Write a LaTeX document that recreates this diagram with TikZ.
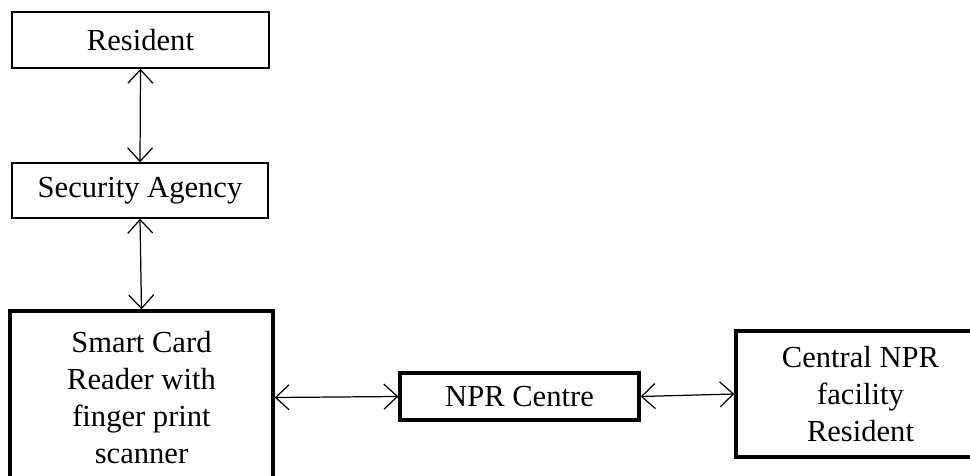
\documentclass[tikz,border=0pt]{standalone}
\usepackage{fontspec}
\setmainfont{Liberation Serif}
\usetikzlibrary{arrows.meta}

\begin{document}
\begin{tikzpicture}[
  x=0.2mm, y=-0.2mm,
  font=\fontsize{17.4}{21}\selectfont,
  thinbox/.style={draw, line width=0.9pt, align=center, inner sep=0pt},
  thickbox/.style={draw, line width=1.9pt, align=center, inner sep=0pt},
  link/.style={{Straight Barb[length=2.7mm,width=5mm]}-{Straight Barb[length=2.7mm,width=5mm]},
    line width=0.7pt}]
\useasboundingbox (0,0) rectangle (970,476);
% left column
\node[thinbox, minimum width=51.4mm, minimum height=11.2mm] (res) at (140.5,40) {Resident};
\node[thinbox, minimum width=51.2mm, minimum height=11mm] (sa) at (140,190.5) {Security Agency};
\node[thickbox, minimum width=52.6mm, minimum height=34.6mm] (scr) at (141.5,397.5)
  {Smart Card\\Reader with\\finger print\\scanner};
% bottom row
\node[thickbox, minimum width=49.8mm, minimum height=25.2mm] (cen) at (860.5,394)
  {Central NPR\\facility\\Resident};
\node[thickbox, minimum width=47.8mm, minimum height=9.4mm] (npr) at (519.5,396.5) {NPR Centre};
% links
\draw[link] (res.south) -- (sa.north);
\draw[link] (sa.south) -- (scr.north);
\draw[link] (scr.east) -- (npr.west);
\draw[link] (npr.east) -- (cen.west);
\end{tikzpicture}
\end{document}
